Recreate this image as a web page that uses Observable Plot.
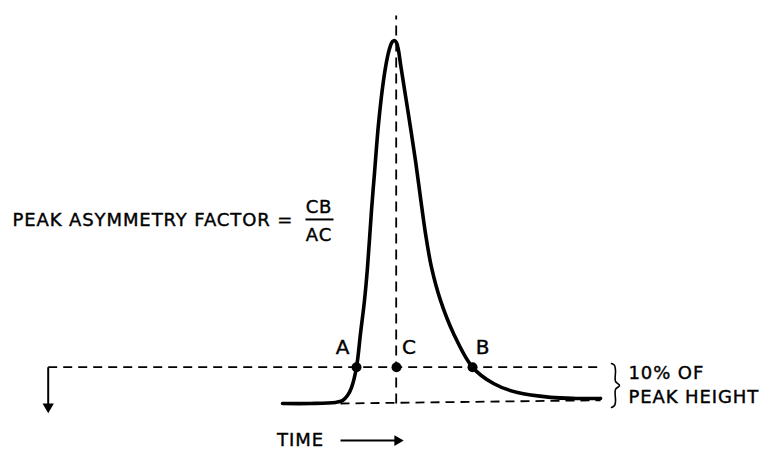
<!DOCTYPE html>
<html>
<head>
<meta charset="utf-8">
<script src="https://cdn.jsdelivr.net/npm/d3@7"></script>
<script src="https://cdn.jsdelivr.net/npm/@observablehq/plot@0.6"></script>
<style>
  html, body { margin: 0; padding: 0; background: #fff; }
  .chart text { letter-spacing: 0.9px; }
</style>
</head>
<body>
<div id="chart"></div>
<script>
// Peak trace: time (arbitrary units) vs signal (% of peak height)
const time   = [23.2, 26.0, 28.5, 29.2, 29.7, 30.1, 30.6, 31.0, 31.4, 31.7, 32.1, 32.4, 32.8, 33.3, 33.7, 34.0, 34.2, 34.4, 34.6, 34.8, 35.0, 35.5, 36.0, 36.5, 37.0, 37.5, 38.1, 39.0, 40.3, 42.2, 44.3, 46.7, 50.0, 52.5, 55.0];
const signal = [0, 0, 0.3, 0.8, 2.2, 4.4, 10, 19.3, 28.4, 37.5, 53.2, 63.5, 77.0, 89.0, 95.5, 98.6, 99.7, 100, 99.4, 97.3, 93.5, 84.8, 76.0, 66.9, 56.7, 46.8, 37.5, 28.4, 19.3, 10, 5.5, 3.0, 1.7, 1.4, 1.4];

// Marked points at 10% of peak height
const pointNames = ["A", "C", "B"];
const pointTime  = [30.6, 34.6, 42.2];
const pointLevel = [10, 10, 10];
const labelTime  = [29.25, 35.9, 43.25];
const labelLevel = 15.3;

// Reference lines
const tenPct = 10;
const tenPctStart = -0.23, tenPctEnd = 55.0;
const centerTime = 34.57, centerTop = 106.9;
const baseStart = 29.0, baseEnd = 55.0, baseLevelStart = 0, baseLevelEnd = 0.9;

// Brace for "10% of peak height"
const braceTime  = [56.1, 56.4, 56.5, 56.5, 56.9, 56.5, 56.5, 56.4, 56.1];
const braceLevel = [11.0, 10.5, 9.1, 6.1, 4.96, 3.86, 0.55, -0.55, -1.1];

// Texts
const formulaText = "PEAK ASYMMETRY FACTOR =";
const numerator = "CB", denominator = "AC";
const noteLines = ["10% OF", "PEAK HEIGHT"];
const noteLevels = [8.26, 1.8];
const timeLabel = "TIME";

const curve = time.map((t, i) => ({t, s: signal[i]}));
const pts = pointNames.map((n, i) => ({n, t: pointTime[i], s: pointLevel[i], lt: labelTime[i]}));
const brace = braceTime.map((t, i) => ({t, s: braceLevel[i]}));
const notes = noteLines.map((txt, i) => ({txt, s: noteLevels[i]}));

const font = "DejaVu Sans";
const dash = "9,6";
const txt = {fontFamily: font, fontSize: 18, fill: "black", stroke: "black", strokeWidth: 0.4};

const plot = Plot.plot({
  width: 763,
  height: 449,
  margin: 0,
  className: "chart",
  style: {background: "#fff"},
  x: {domain: [-5, 71.3], axis: null},
  y: {domain: [-12.67, 111.02], axis: null},
  marks: [
    // 10% horizontal dashed line
    Plot.link([{x1: tenPctStart, x2: tenPctEnd, y: tenPct}], {x1: "x1", x2: "x2", y1: "y", y2: "y", stroke: "black", strokeWidth: 1.8, strokeDasharray: dash}),
    // vertical dashed center line
    Plot.link([{x: centerTime, y1: 0, y2: centerTop}], {x1: "x", x2: "x", y1: "y1", y2: "y2", stroke: "black", strokeWidth: 1.8, strokeDasharray: "10,6"}),
    // baseline dashed
    Plot.link([{x1: baseStart, x2: baseEnd, y1: baseLevelStart, y2: baseLevelEnd}], {x1: "x1", x2: "x2", y1: "y1", y2: "y2", stroke: "black", strokeWidth: 1.8, strokeDasharray: dash}),
    // down arrow at left
    Plot.link([{x: tenPctStart, y1: tenPct, y2: -0.6}], {x1: "x", x2: "x", y1: "y1", y2: "y2", stroke: "black", strokeWidth: 2}),
    Plot.dot([{x: tenPctStart, y: -0.9}], {x: "x", y: "y", symbol: "triangle", r: 4.2, fill: "black", stroke: "none", rotate: 180}),
    // peak curve
    Plot.line(curve, {x: "t", y: "s", curve: "catmull-rom", stroke: "black", strokeWidth: 3.6, strokeLinejoin: "round", strokeLinecap: "round"}),
    // points
    Plot.dot(pts, {x: "t", y: "s", r: 5, fill: "black", stroke: "none"}),
    Plot.text(pts, {x: "lt", y: () => labelLevel, text: "n", ...txt, fontSize: 20}),
    // brace
    Plot.line(brace, {x: "t", y: "s", curve: "catmull-rom", stroke: "black", strokeWidth: 1.6}),
    // note
    Plot.text(notes, {x: () => 57.8, y: "s", text: "txt", textAnchor: "start", ...txt}),
    // formula
    Plot.text([formulaText], {x: () => -3.8, y: () => 50.55, text: d => d, textAnchor: "start", ...txt}),
    Plot.text([numerator], {x: () => 26.85, y: () => 54.1, text: d => d, ...txt}),
    Plot.text([denominator], {x: () => 26.85, y: () => 46.3, text: d => d, ...txt}),
    Plot.link([{x1: 25.5, x2: 28.3, y: 50.7}], {x1: "x1", x2: "x2", y1: "y", y2: "y", stroke: "black", strokeWidth: 2}),
    // time axis label and arrow
    Plot.text([timeLabel], {x: () => 25.0, y: () => -10.2, text: d => d, ...txt}),
    Plot.link([{x1: 29.0, x2: 34.6, y: -10.2}], {x1: "x1", x2: "x2", y1: "y", y2: "y", stroke: "black", strokeWidth: 2}),
    Plot.dot([{x: 34.7, y: -10.2}], {x: "x", y: "y", symbol: "triangle", r: 4, fill: "black", stroke: "none", rotate: 90})
  ]
});
document.getElementById("chart").appendChild(plot);
</script>
</body>
</html>
